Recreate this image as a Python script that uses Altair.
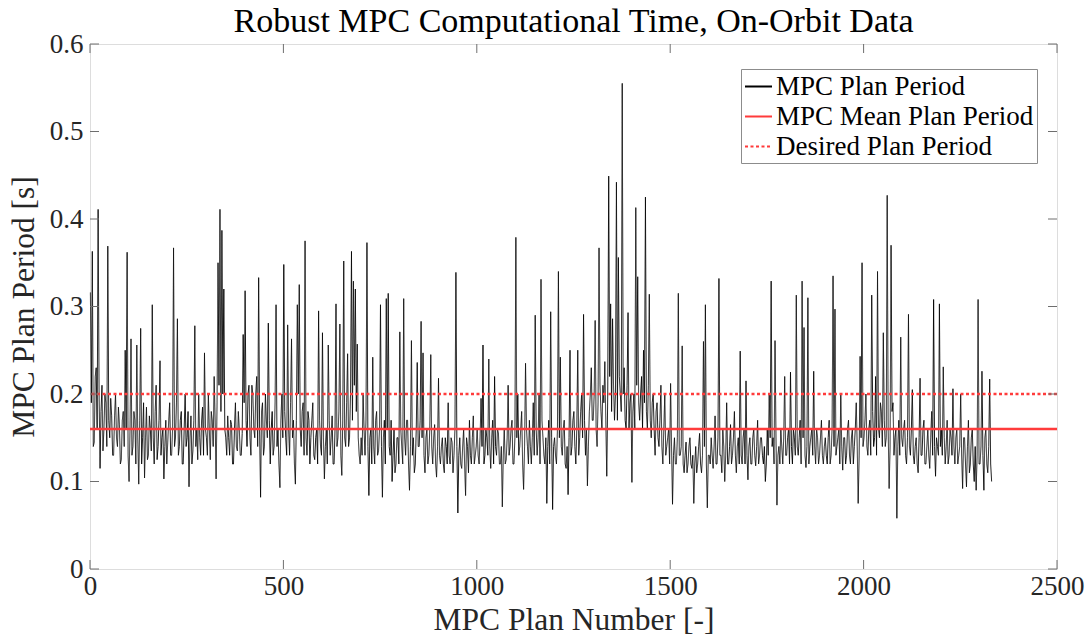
import altair as alt
import pandas as pd

title_text = "Robust MPC Computational Time, On-Orbit Data"
x_title = "MPC Plan Number [-]"
y_title = "MPC Plan Period [s]"
x_ticks = [0, 500, 1000, 1500, 2000, 2500]
y_ticks = [0, 0.1, 0.2, 0.3, 0.4, 0.5, 0.6]
series_names = ["MPC Plan Period", "MPC Mean Plan Period", "Desired Plan Period"]
series_colors = ["#000000", "#ff3b3b", "#ff3b3b"]
mean_period = 0.16
desired_period = 0.2
plan_step = 2.5

# plan period values, one every 2.5 plans
period_s = [
    0.316, 0.19, 0.363, 0.14, 0.145, 0.22, 0.23, 0.16, 0.411, 0.2, 0.115, 0.18, 0.21, 0.135, 0.16, 0.2, 0.19, 0.14, 0.369, 0.17,
    0.15, 0.195, 0.175, 0.13, 0.13, 0.175, 0.2, 0.15, 0.14, 0.185, 0.165, 0.12, 0.125, 0.17, 0.18, 0.14, 0.25, 0.16, 0.362, 0.13,
    0.1, 0.16, 0.263, 0.13, 0.14, 0.18, 0.17, 0.12, 0.256, 0.15, 0.097, 0.17, 0.275, 0.12, 0.15, 0.19, 0.104, 0.15, 0.185, 0.125,
    0.13, 0.175, 0.16, 0.135, 0.302, 0.15, 0.12, 0.18, 0.21, 0.125, 0.14, 0.17, 0.238, 0.13, 0.15, 0.16, 0.103, 0.14, 0.17, 0.12,
    0.145, 0.17, 0.19, 0.13, 0.13, 0.16, 0.367, 0.14, 0.15, 0.19, 0.286, 0.13, 0.14, 0.17, 0.18, 0.12, 0.12, 0.16, 0.2, 0.14,
    0.15, 0.18, 0.094, 0.15, 0.175, 0.12, 0.135, 0.17, 0.278, 0.14, 0.16, 0.125, 0.2, 0.15, 0.13, 0.17, 0.185, 0.13, 0.247, 0.16,
    0.15, 0.13, 0.2, 0.16, 0.125, 0.18, 0.17, 0.14, 0.22, 0.17, 0.103, 0.19, 0.35, 0.21, 0.411, 0.18, 0.387, 0.2, 0.32, 0.16,
    0.15, 0.13, 0.175, 0.15, 0.13, 0.17, 0.165, 0.12, 0.12, 0.16, 0.19, 0.14, 0.135, 0.18, 0.16, 0.13, 0.13, 0.155, 0.268, 0.19,
    0.318, 0.17, 0.14, 0.2, 0.21, 0.15, 0.13, 0.21, 0.2, 0.16, 0.15, 0.2, 0.22, 0.14, 0.333, 0.16, 0.082, 0.18, 0.19, 0.13,
    0.14, 0.2, 0.17, 0.15, 0.281, 0.17, 0.12, 0.16, 0.18, 0.13, 0.14, 0.19, 0.302, 0.14, 0.16, 0.12, 0.093, 0.17, 0.2, 0.15,
    0.348, 0.18, 0.15, 0.13, 0.279, 0.16, 0.13, 0.19, 0.263, 0.15, 0.17, 0.12, 0.097, 0.17, 0.302, 0.2, 0.325, 0.16, 0.14, 0.18,
    0.19, 0.13, 0.375, 0.15, 0.13, 0.18, 0.17, 0.12, 0.15, 0.17, 0.19, 0.13, 0.125, 0.15, 0.16, 0.12, 0.295, 0.17, 0.14, 0.13,
    0.27, 0.15, 0.103, 0.14, 0.16, 0.12, 0.256, 0.17, 0.13, 0.15, 0.175, 0.12, 0.12, 0.16, 0.303, 0.14, 0.15, 0.18, 0.28, 0.13,
    0.107, 0.17, 0.352, 0.15, 0.14, 0.19, 0.246, 0.14, 0.15, 0.2, 0.363, 0.17, 0.329, 0.21, 0.32, 0.18, 0.257, 0.15, 0.13, 0.12,
    0.15, 0.13, 0.2, 0.16, 0.13, 0.17, 0.373, 0.14, 0.084, 0.15, 0.16, 0.12, 0.242, 0.14, 0.12, 0.17, 0.18, 0.13, 0.135, 0.16,
    0.302, 0.14, 0.082, 0.15, 0.17, 0.12, 0.309, 0.16, 0.315, 0.14, 0.13, 0.17, 0.1, 0.13, 0.16, 0.11, 0.12, 0.15, 0.15, 0.12,
    0.271, 0.16, 0.14, 0.12, 0.309, 0.15, 0.13, 0.17, 0.17, 0.12, 0.09, 0.14, 0.261, 0.13, 0.15, 0.11, 0.12, 0.16, 0.236, 0.14,
    0.14, 0.17, 0.283, 0.15, 0.247, 0.13, 0.11, 0.15, 0.16, 0.12, 0.13, 0.16, 0.245, 0.14, 0.12, 0.15, 0.165, 0.12, 0.105, 0.14,
    0.218, 0.13, 0.12, 0.14, 0.15, 0.12, 0.11, 0.15, 0.14, 0.12, 0.19, 0.13, 0.12, 0.15, 0.145, 0.11, 0.13, 0.16, 0.339, 0.14,
    0.064, 0.13, 0.15, 0.12, 0.115, 0.14, 0.16, 0.12, 0.084, 0.15, 0.14, 0.11, 0.17, 0.13, 0.12, 0.15, 0.175, 0.12, 0.13, 0.14,
    0.16, 0.13, 0.12, 0.15, 0.195, 0.14, 0.256, 0.12, 0.13, 0.16, 0.15, 0.13, 0.24, 0.14, 0.115, 0.15, 0.17, 0.12, 0.22, 0.14,
    0.13, 0.16, 0.155, 0.12, 0.12, 0.14, 0.071, 0.13, 0.16, 0.12, 0.125, 0.15, 0.21, 0.13, 0.14, 0.16, 0.17, 0.12, 0.12, 0.15,
    0.379, 0.15, 0.2, 0.13, 0.14, 0.16, 0.18, 0.12, 0.091, 0.14, 0.235, 0.16, 0.14, 0.12, 0.17, 0.14, 0.12, 0.15, 0.19, 0.13,
    0.29, 0.16, 0.13, 0.15, 0.2, 0.12, 0.331, 0.17, 0.15, 0.13, 0.12, 0.15, 0.075, 0.14, 0.17, 0.12, 0.294, 0.15, 0.068, 0.14,
    0.15, 0.13, 0.12, 0.16, 0.34, 0.15, 0.242, 0.14, 0.13, 0.16, 0.17, 0.12, 0.115, 0.14, 0.085, 0.15, 0.25, 0.13, 0.14, 0.17,
    0.18, 0.14, 0.12, 0.16, 0.25, 0.13, 0.15, 0.18, 0.2, 0.15, 0.291, 0.17, 0.13, 0.16, 0.095, 0.14, 0.18, 0.2, 0.23, 0.17,
    0.17, 0.2, 0.284, 0.16, 0.14, 0.19, 0.367, 0.21, 0.18, 0.16, 0.21, 0.19, 0.237, 0.17, 0.106, 0.2, 0.449, 0.22, 0.303, 0.18,
    0.286, 0.21, 0.17, 0.2, 0.442, 0.17, 0.356, 0.22, 0.2, 0.18, 0.555, 0.2, 0.23, 0.17, 0.16, 0.21, 0.293, 0.16, 0.19, 0.2,
    0.099, 0.18, 0.2, 0.16, 0.413, 0.21, 0.334, 0.19, 0.17, 0.2, 0.22, 0.16, 0.25, 0.19, 0.425, 0.18, 0.16, 0.21, 0.314, 0.17,
    0.15, 0.19, 0.2, 0.16, 0.13, 0.18, 0.19, 0.15, 0.14, 0.17, 0.21, 0.14, 0.12, 0.16, 0.2, 0.13, 0.14, 0.15, 0.16, 0.12,
    0.212, 0.14, 0.074, 0.13, 0.15, 0.12, 0.12, 0.15, 0.315, 0.13, 0.13, 0.14, 0.255, 0.12, 0.11, 0.13, 0.145, 0.11, 0.12, 0.14,
    0.15, 0.12, 0.115, 0.13, 0.075, 0.12, 0.14, 0.11, 0.12, 0.14, 0.155, 0.12, 0.11, 0.13, 0.26, 0.14, 0.302, 0.12, 0.07, 0.13,
    0.13, 0.12, 0.15, 0.13, 0.115, 0.14, 0.175, 0.12, 0.12, 0.15, 0.332, 0.13, 0.13, 0.11, 0.16, 0.14, 0.1, 0.13, 0.19, 0.12,
    0.12, 0.14, 0.165, 0.12, 0.13, 0.15, 0.18, 0.13, 0.11, 0.14, 0.15, 0.12, 0.249, 0.13, 0.12, 0.15, 0.16, 0.12, 0.215, 0.13,
    0.102, 0.14, 0.15, 0.12, 0.12, 0.15, 0.16, 0.13, 0.118, 0.14, 0.17, 0.12, 0.13, 0.15, 0.15, 0.13, 0.12, 0.14, 0.1, 0.12,
    0.16, 0.13, 0.2, 0.15, 0.329, 0.14, 0.15, 0.12, 0.261, 0.15, 0.073, 0.13, 0.14, 0.12, 0.16, 0.14, 0.12, 0.15, 0.22, 0.13,
    0.13, 0.15, 0.16, 0.12, 0.225, 0.14, 0.12, 0.16, 0.15, 0.13, 0.313, 0.14, 0.13, 0.15, 0.17, 0.12, 0.329, 0.15, 0.276, 0.13,
    0.116, 0.14, 0.31, 0.12, 0.14, 0.15, 0.16, 0.13, 0.226, 0.14, 0.12, 0.16, 0.15, 0.12, 0.13, 0.15, 0.17, 0.13, 0.12, 0.14,
    0.15, 0.13, 0.12, 0.15, 0.17, 0.12, 0.13, 0.16, 0.335, 0.14, 0.297, 0.13, 0.14, 0.15, 0.16, 0.12, 0.2, 0.14, 0.113, 0.15,
    0.15, 0.12, 0.13, 0.16, 0.17, 0.13, 0.12, 0.15, 0.16, 0.12, 0.14, 0.16, 0.19, 0.14, 0.075, 0.13, 0.243, 0.15, 0.35, 0.14,
    0.15, 0.17, 0.2, 0.14, 0.13, 0.16, 0.17, 0.13, 0.313, 0.18, 0.14, 0.15, 0.22, 0.13, 0.34, 0.16, 0.15, 0.19, 0.18, 0.14,
    0.27, 0.17, 0.14, 0.15, 0.427, 0.16, 0.092, 0.14, 0.37, 0.18, 0.19, 0.13, 0.15, 0.16, 0.058, 0.14, 0.17, 0.13, 0.265, 0.15,
    0.14, 0.16, 0.17, 0.13, 0.12, 0.15, 0.291, 0.14, 0.13, 0.16, 0.205, 0.13, 0.12, 0.14, 0.15, 0.12, 0.11, 0.15, 0.218, 0.13,
    0.13, 0.16, 0.17, 0.12, 0.12, 0.14, 0.16, 0.13, 0.115, 0.15, 0.18, 0.13, 0.308, 0.14, 0.106, 0.15, 0.14, 0.13, 0.303, 0.14,
    0.16, 0.13, 0.231, 0.15, 0.12, 0.14, 0.17, 0.12, 0.13, 0.16, 0.15, 0.13, 0.206, 0.14, 0.12, 0.15, 0.16, 0.12, 0.13, 0.14,
    0.2, 0.13, 0.092, 0.15, 0.15, 0.12, 0.094, 0.14, 0.17, 0.11, 0.12, 0.15, 0.16, 0.12, 0.1, 0.14, 0.09, 0.13, 0.308, 0.12,
    0.12, 0.14, 0.226, 0.13, 0.09, 0.15, 0.16, 0.12, 0.11, 0.14, 0.217, 0.12, 0.1,
]
plan_number = [1 + plan_step * i for i in range(len(period_s))]

FONT = "Liberation Serif"
W, H = 967, 525
AX = "#6e6e6e"
TXT = "#262626"

line_df = pd.DataFrame({"plan": plan_number, "period": period_s, "series": series_names[0]})
rule_df = pd.DataFrame({"period": [mean_period, desired_period], "series": series_names[1:]})
xt_df = pd.DataFrame({"tick": x_ticks})
yt_df = pd.DataFrame({"tick": y_ticks})

xscale = alt.Scale(domain=[0, 2500], nice=False, zero=False)
yscale = alt.Scale(domain=[0, 0.6], nice=False)

legend = alt.Legend(
    orient="none", legendX=651, legendY=25, title=None,
    symbolType="stroke", symbolSize=729, symbolStrokeWidth=2, labelFont=FONT, labelFontSize=27,
    labelColor="#000000", labelOffset=3, strokeColor="#8c8c8c", fillColor="white",
    padding=3, rowPadding=2, labelLimit=400,
)
color_enc = alt.Color("series:N", scale=alt.Scale(domain=series_names, range=series_colors), legend=legend)
dash_enc = alt.StrokeDash("series:N", scale=alt.Scale(domain=series_names, range=[[1, 0], [1, 0], [3, 2.5]]), legend=legend)

x_axis = alt.Axis(values=x_ticks, title=x_title, ticks=False, domain=False, grid=False, labelFlush=False,
                  labelFont=FONT, labelFontSize=27, labelColor=TXT, labelPadding=4,
                  titleFont=FONT, titleFontSize=31.5, titleFontWeight="normal", titleColor=TXT,
                  titlePadding=5, format="d")
y_axis = alt.Axis(values=y_ticks, title=y_title, ticks=False, domain=False, grid=False, labelFlush=False,
                  labelFont=FONT, labelFontSize=27, labelColor=TXT, labelPadding=7,
                  titleFont=FONT, titleFontSize=31.5, titleFontWeight="normal", titleColor=TXT,
                  titlePadding=9, labelExpr="datum.value == 0 ? '0' : format(datum.value, '.1f')")

series_line = alt.Chart(line_df).mark_line(interpolate="linear", strokeWidth=0.9).encode(
    x=alt.X("plan:Q", scale=xscale, axis=x_axis),
    y=alt.Y("period:Q", scale=yscale, axis=y_axis),
    color=color_enc, strokeDash=dash_enc,
)

ref_rules = alt.Chart(rule_df).mark_rule(strokeWidth=2.3).encode(
    y=alt.Y("period:Q", scale=yscale, axis=y_axis),
    color=color_enc, strokeDash=dash_enc,
)

tick_len = 9
xt_bottom = alt.Chart(xt_df).mark_rule(color=AX, strokeWidth=1).encode(
    x=alt.X("tick:Q", scale=xscale, axis=x_axis), y=alt.value(H), y2=alt.value(H - tick_len))
xt_top = alt.Chart(xt_df).mark_rule(color=AX, strokeWidth=1).encode(
    x=alt.X("tick:Q", scale=xscale, axis=x_axis), y=alt.value(0), y2=alt.value(tick_len))
yt_left = alt.Chart(yt_df).mark_rule(color=AX, strokeWidth=1).encode(
    y=alt.Y("tick:Q", scale=yscale, axis=y_axis), x=alt.value(0), x2=alt.value(tick_len))
yt_right = alt.Chart(yt_df).mark_rule(color=AX, strokeWidth=1).encode(
    y=alt.Y("tick:Q", scale=yscale, axis=y_axis), x=alt.value(W), x2=alt.value(W - tick_len))

chart = alt.layer(series_line, ref_rules, xt_bottom, xt_top, yt_left, yt_right).properties(
    width=W, height=H,
    title=alt.TitleParams(title_text, font=FONT, fontSize=34, fontWeight="normal", color="#000000",
                          anchor="middle", offset=-9),
    autosize=alt.AutoSizeParams(type="none"),
    padding={"left": 90, "top": 44, "right": 32, "bottom": 73},
).configure_view(stroke=AX, strokeWidth=1).configure(background="white")

chart.save("out.html", embed_options={"renderer": "svg", "actions": False})
